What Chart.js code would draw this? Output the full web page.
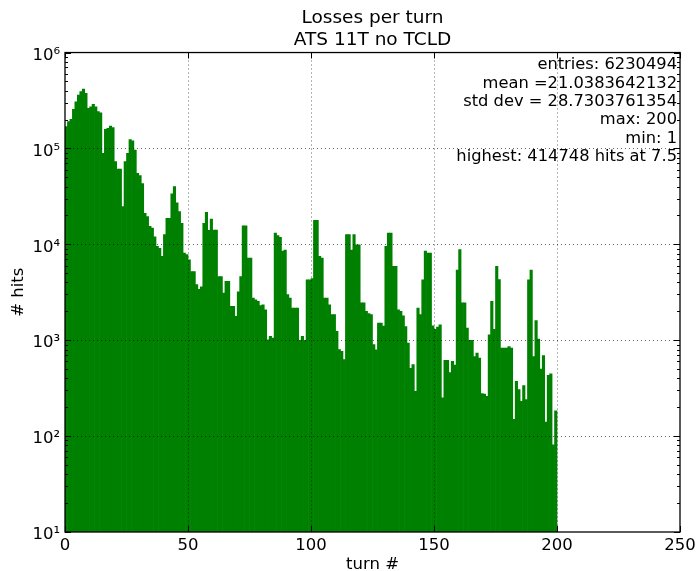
<!DOCTYPE html>
<html>
<head>
<meta charset="utf-8">
<title>Losses per turn</title>
<script src="https://cdn.jsdelivr.net/npm/chart.js@4.4.1/dist/chart.umd.min.js"></script>
<style>
  html, body { margin: 0; padding: 0; background: #fff; }
  #wrap { width: 696px; height: 571px; }
</style>
</head>
<body>
<div id="wrap"><canvas id="lossChart" width="696" height="571"></canvas></div>
<script>
// hits per turn, one bin per turn starting at turn 0
const hits = [
  169000, 190000, 201000, 256000, 307000, 361000, 391000, 414748, 376000, 262000,
  272000, 288000, 272000, 242000, 235000, 89000, 158000, 162000, 171000, 165000,
  73000, 61000, 61000, 24800, 73000, 89000, 124000, 120000, 96000, 55000,
  52000, 43000, 21000, 19500, 15400, 14800, 12000, 9500, 9100, 7500,
  12600, 18700, 18700, 33600, 40000, 27000, 22000, 16600, 8100, 7800,
  6900, 5200, 5200, 3800, 3400, 3600, 16600, 21600, 14000, 18300,
  14100, 14100, 4600, 4600, 3100, 4100, 4100, 2250, 2250, 1770,
  3200, 4600, 15600, 15600, 7200, 7200, 2750, 2640, 2540, 2300,
  2340, 2080, 1010, 1100, 1050, 13100, 12300, 11800, 8500, 8700,
  3000, 2750, 2160, 2160, 2160, 1000, 1100, 1000, 4270, 4270,
  4400, 17800, 17800, 7500, 7200, 2750, 2750, 2340, 1850, 1850,
  1240, 800, 764, 627, 12600, 12600, 8700, 12600, 9900, 9900,
  2450, 2450, 2000, 1900, 1850, 898, 794, 1510, 1510, 1400,
  9500, 13100, 13100, 5900, 5900, 2080, 2000, 1800, 1390, 934,
  510, 556, 293, 2160, 1850, 4270, 8500, 8100, 8100, 1410,
  1300, 1370, 1450, 251, 617, 617, 460, 604, 550, 5400,
  8800, 2450, 2450, 1340, 1000, 1000, 675, 735, 650, 277,
  275, 260, 1140, 2540, 1300, 5900, 4300, 830, 830, 830,
  860, 830, 150, 372, 305, 230, 336, 240, 4270, 5400,
  675, 1600, 1030, 500, 690, 140, 430, 446, 81, 184,
];
const firstTurn = 0;
const binWidth = 1;

const xTicks = [0, 50, 100, 150, 200, 250];
const yDecades = [1e1, 1e2, 1e3, 1e4, 1e5, 1e6];

const titleLines = ["Losses per turn", "ATS 11T no TCLD"];
const statsLines = [
  "entries: 6230494",
  "mean =21.0383642132",
  "std dev = 28.7303761354",
  "max: 200",
  "min: 1",
  "highest: 414748 hits at 7.5",
];

const FONT = "DejaVu Sans";
const superscripts = ["\u2070", "\u00b9", "\u00b2", "\u00b3", "\u2074", "\u2075", "\u2076"];

const bins = hits.map((count, i) => ({
  x: firstTurn + (i + 0.5) * binWidth,
  y: count,
}));

// dotted grid above the bars, black frame and inward tick marks
const axisDecorations = {
  id: "axisDecorations",
  afterDatasetsDraw(chart) {
    const { ctx, chartArea: area } = chart;
    const xScale = chart.scales.x;
    const yScale = chart.scales.y;
    ctx.save();

    ctx.strokeStyle = "#000";
    ctx.lineWidth = 0.6;
    ctx.setLineDash([1, 3]);
    ctx.beginPath();
    xTicks.slice(1, -1).forEach((v) => {
      const px = Math.round(xScale.getPixelForValue(v)) + 0.5;
      ctx.moveTo(px, area.top);
      ctx.lineTo(px, area.bottom);
    });
    yDecades.slice(1, -1).forEach((v) => {
      const py = Math.round(yScale.getPixelForValue(v)) + 0.5;
      ctx.moveTo(area.left, py);
      ctx.lineTo(area.right, py);
    });
    ctx.stroke();
    ctx.setLineDash([]);

    ctx.lineWidth = 1;
    ctx.beginPath();
    xTicks.forEach((v) => {
      const px = Math.round(xScale.getPixelForValue(v)) + 0.5;
      ctx.moveTo(px, area.bottom);
      ctx.lineTo(px, area.bottom - 6);
      ctx.moveTo(px, area.top);
      ctx.lineTo(px, area.top + 6);
    });
    yDecades.forEach((decade, i) => {
      const py = Math.round(yScale.getPixelForValue(decade)) + 0.5;
      ctx.moveTo(area.left, py);
      ctx.lineTo(area.left + 6, py);
      ctx.moveTo(area.right, py);
      ctx.lineTo(area.right - 6, py);
      if (i === yDecades.length - 1) {
        return;
      }
      for (let m = 2; m <= 9; m++) {
        const my = Math.round(yScale.getPixelForValue(decade * m)) + 0.5;
        ctx.moveTo(area.left, my);
        ctx.lineTo(area.left + 3, my);
        ctx.moveTo(area.right, my);
        ctx.lineTo(area.right - 3, my);
      }
    });
    ctx.stroke();

    ctx.lineWidth = 1.3;
    ctx.strokeRect(area.left, area.top, area.right - area.left, area.bottom - area.top);
    ctx.restore();
  },
};

// summary numbers in the upper right corner
const statsBox = {
  id: "statsBox",
  afterDraw(chart) {
    const { ctx, chartArea: area } = chart;
    ctx.save();
    ctx.font = `16.3px "${FONT}"`;
    ctx.fillStyle = "#000";
    ctx.textAlign = "right";
    ctx.textBaseline = "middle";
    statsLines.forEach((line, i) => {
      ctx.fillText(line, area.right - 3, area.top + 12.5 + i * 18.35);
    });
    ctx.restore();
  },
};

new Chart(document.getElementById("lossChart"), {
  type: "bar",
  data: {
    datasets: [
      {
        data: bins,
        backgroundColor: "#008000",
        borderWidth: 0,
        barPercentage: 1,
        categoryPercentage: 1,
      },
    ],
  },
  options: {
    responsive: false,
    animation: false,
    layout: {
      padding: { left: 0, right: 16, top: 0, bottom: 0 },
    },
    plugins: {
      legend: { display: false },
      tooltip: { enabled: false },
      title: {
        display: true,
        text: titleLines,
        fullSize: false,
        color: "#000",
        font: { family: FONT, size: 18.5, weight: "normal", lineHeight: 1.19 },
        padding: { top: 7, bottom: 1.5 },
      },
    },
    scales: {
      x: {
        type: "linear",
        min: 0,
        max: 250,
        offset: false,
        grid: { display: false, drawTicks: false, offset: false },
        border: { display: false },
        afterBuildTicks: (scale) => {
          scale.ticks = xTicks.map((value) => ({ value }));
        },
        afterFit: (scale) => {
          scale.height = 39;
          scale.paddingLeft = 0;
          scale.paddingRight = 0;
        },
        ticks: {
          color: "#000",
          padding: 4,
          maxRotation: 0,
          autoSkip: false,
          font: { family: FONT, size: 16.5 },
        },
        title: {
          display: true,
          text: "turn #",
          color: "#000",
          font: { family: FONT, size: 16.5, lineHeight: 1 },
          padding: { top: 0, bottom: -1.5 },
        },
      },
      y: {
        type: "logarithmic",
        min: 10,
        max: 1e6,
        grid: { display: false, drawTicks: false },
        border: { display: false },
        afterBuildTicks: (scale) => {
          scale.ticks = yDecades.map((value) => ({ value }));
        },
        afterFit: (scale) => {
          scale.width = 65;
        },
        ticks: {
          color: "#000",
          padding: 5,
          labelOffset: 3,
          autoSkip: false,
          font: { family: FONT, size: 16.5 },
          callback: (value) => "10" + superscripts[Math.round(Math.log10(value))],
        },
        title: {
          display: true,
          text: "# hits",
          color: "#000",
          font: { family: FONT, size: 16.5, lineHeight: 1 },
          padding: { top: 10, bottom: 0 },
        },
      },
    },
  },
  plugins: [axisDecorations, statsBox],
});
</script>
</body>
</html>
